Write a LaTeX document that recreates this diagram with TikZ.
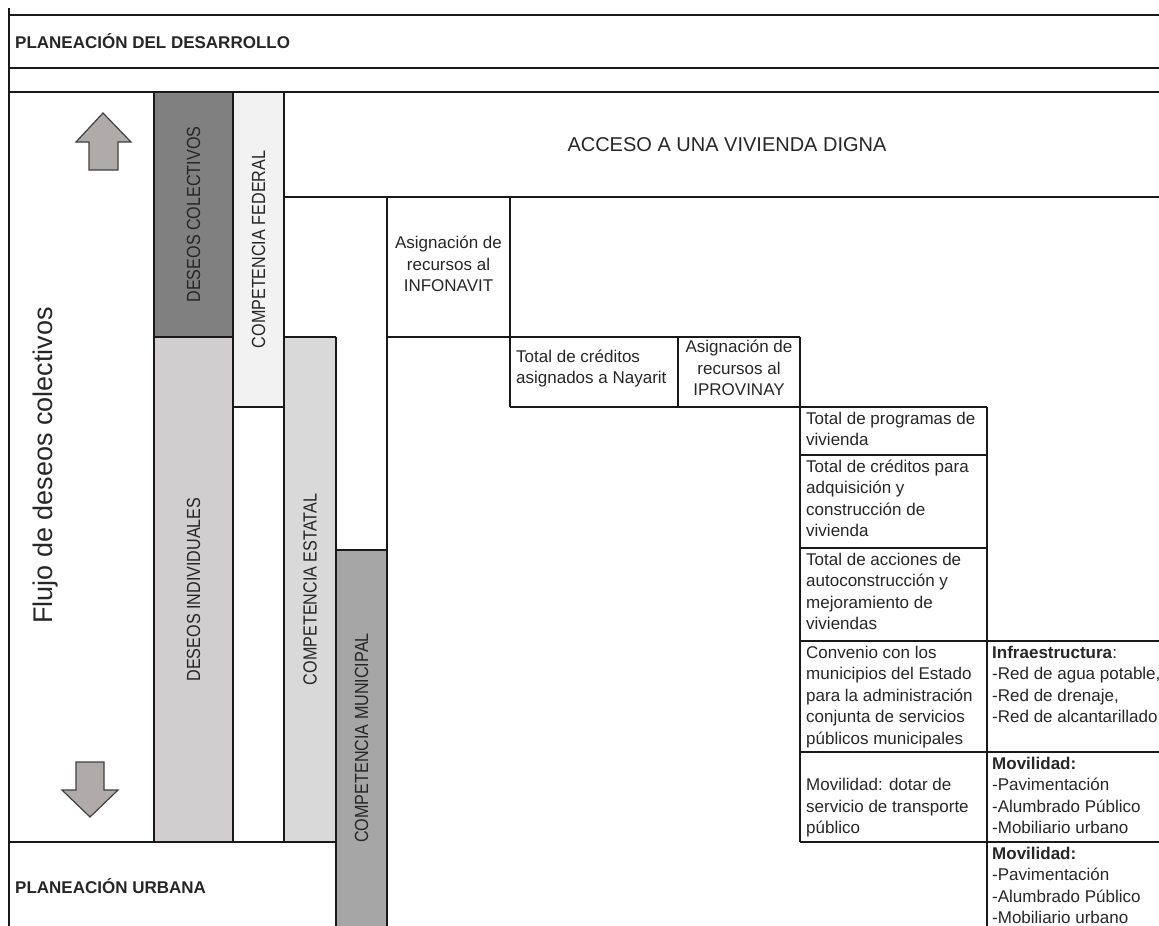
\documentclass[tikz,border=0pt]{standalone}
\usepackage{fontspec}
\setmainfont{Liberation Sans}
\newfontfamily\narrowsf[FakeStretch=0.85]{Liberation Sans}
\usetikzlibrary{positioning}

\definecolor{colectivo}{HTML}{808080}
\definecolor{individual}{HTML}{D0CECE}
\definecolor{federal}{HTML}{F2F2F2}
\definecolor{estatal}{HTML}{D9D9D9}
\definecolor{municipal}{HTML}{A6A6A6}
\definecolor{flecha}{HTML}{AFABAB}
\definecolor{tinta}{HTML}{262626}

\newcommand{\cellfont}{\fontsize{17}{21.5}\selectfont}

\begin{document}
\begin{tikzpicture}[
  x=1pt, y=-1pt,
  rule/.style = {line width=1.3pt, draw=black!90},
  vlabel/.style = {rotate=90, inner sep=0pt, font=\narrowsf\fontsize{19}{21}\selectfont, text=tinta},
  cell/.style = {anchor=north west, inner sep=0pt, align=left, font=\cellfont, text=tinta},
  ccell/.style = {anchor=north, inner sep=0pt, align=center, font=\cellfont, text=tinta},
  title/.style = {anchor=base west, inner sep=0pt, font=\bfseries\fontsize{17}{20}\selectfont, text=tinta},
  bigarrow/.style = {fill=flecha, draw=black!75, line width=1.2pt, line join=miter}
]
\useasboundingbox (0,0) rectangle (1159,926);

% Columnas con relleno
\fill[colectivo]  (154,92)  rectangle (233,337);
\fill[individual] (154,337) rectangle (233,842);
\fill[federal]    (233,92)  rectangle (284,407);
\fill[estatal]    (284,337) rectangle (336,842);
\fill[municipal]  (336,550) rectangle (387,926);

% Marco general
\draw[rule] (9,8) -- (9,926);
\foreach \y in {15,68,92}
  \draw[rule] (9,\y) -- (1159,\y);

% Columnas de la izquierda
\foreach \x in {154,233,284}
  \draw[rule] (\x,92) -- (\x,842);
\draw[rule] (336,337) -- (336,926);
\draw[rule] (387,197) -- (387,926);
\draw[rule] (9,842) -- (336,842);
\draw[rule] (154,337) -- (233,337);
\draw[rule] (233,407) -- (284,407);
\draw[rule] (284,337) -- (336,337);
\draw[rule] (336,550) -- (387,550);

% Escalera de acciones
\draw[rule] (284,197) -- (1159,197);
\draw[rule] (510,197) -- (510,407);
\draw[rule] (387,337) -- (800,337);
\draw[rule] (678,337) -- (678,407);
\draw[rule] (510,407) -- (987,407);
\draw[rule] (800,337) -- (800,842);
\draw[rule] (987,407) -- (987,926);
\foreach \y in {455,548}
  \draw[rule] (800,\y) -- (987,\y);
\foreach \y in {641,752,842}
  \draw[rule] (800,\y) -- (1159,\y);

% Flechas
\draw[bigarrow] (103,113) -- (131,142) -- (118,142) -- (118,170)
  -- (89,170) -- (89,142) -- (76,142) -- cycle;
\draw[bigarrow] (90,817) -- (118,790) -- (104,790) -- (104,762)
  -- (76,762) -- (76,790) -- (62,790) -- cycle;

% Encabezados
\node[title] (desarrollo) at (15,48) {PLANEACIÓN DEL DESARROLLO};
\node[title] (urbana) at (15,893) {PLANEACIÓN URBANA};
\node[font=\fontsize{20}{24}\selectfont, inner sep=0pt, text=tinta] (acceso) at (727,145) {ACCESO A UNA VIVIENDA DIGNA};
\node[rotate=90, inner sep=0pt, font=\fontsize{27}{30}\selectfont, text=tinta] (flujo) at (45.5,465.5) {Flujo de deseos colectivos};

% Etiquetas verticales
\node[vlabel] (colectivos) at (193.5,214.5) {DESEOS COLECTIVOS};
\node[vlabel] (individuales) at (193.5,589.5) {DESEOS INDIVIDUALES};
\node[vlabel] (federal) at (258.5,249.5) {COMPETENCIA FEDERAL};
\node[vlabel] (estatal) at (310,589.5) {COMPETENCIA ESTATAL};
\node[vlabel] (municipal) at (361.5,738) {COMPETENCIA MUNICIPAL};

% Celdas
\node[ccell] (infonavit) at (448.5,233.5) {\strut Asignación de\\recursos al\\INFONAVIT};
\node[cell] (nayarit) at (516,347) {\strut Total de créditos\\asignados a Nayarit};
\node[ccell] (iprovinay) at (739,337.5) {\strut Asignación de\\recursos al\\IPROVINAY};
\node[cell] (programas) at (806,409) {\strut Total de programas de\\vivienda};
\node[cell] (creditos) at (806,457) {\strut Total de créditos para\\adquisición y\\construcción de\\vivienda};
\node[cell] (acciones) at (806,550) {\strut Total de acciones de\\autoconstrucción y\\mejoramiento de\\viviendas};
\node[cell] (convenio) at (806,643) {\strut Convenio con los\\municipios del Estado\\para la administración\\conjunta de servicios\\públicos municipales};
\node[cell] (transporte) at (806,775.5) {\strut Movilidad: dotar de\\servicio de transporte\\público};
\node[cell] (infra) at (992,643) {\strut\textbf{Infraestructura}:\\-Red de agua potable,\\-Red de drenaje,\\-Red de alcantarillado.};
\node[cell] (movilidad) at (992,754) {\strut\textbf{Movilidad:}\\-Pavimentación\\-Alumbrado Público\\-Mobiliario urbano};
\node[cell] (movilidadb) at (992,844) {\strut\textbf{Movilidad:}\\-Pavimentación\\-Alumbrado Público\\-Mobiliario urbano};

\end{tikzpicture}
\end{document}
